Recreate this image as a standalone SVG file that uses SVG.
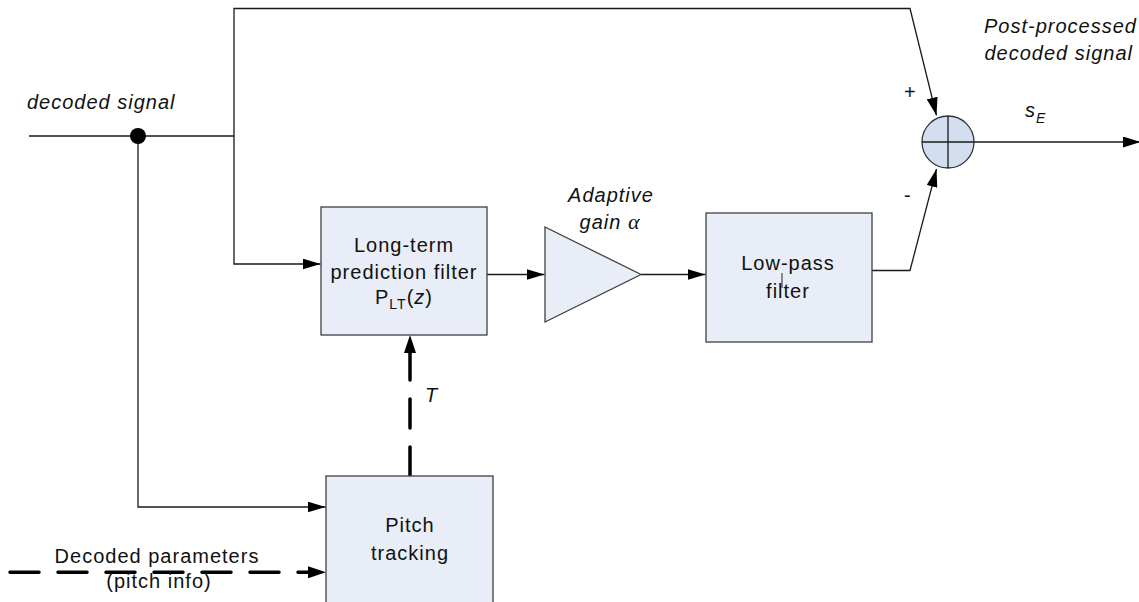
<svg xmlns="http://www.w3.org/2000/svg" width="1139" height="602" viewBox="0 0 1139 602">
<style>
  .ln{fill:none;stroke:#1a1a1a;stroke-width:1.3}
  .dash{fill:none;stroke:#000;stroke-width:3.5;stroke-linecap:round;stroke-dasharray:29 19}
  .box{fill:#e8edf7;stroke:#404040;stroke-width:1.3}
  .t{font-family:"Liberation Sans",Arial,sans-serif;font-size:20px;letter-spacing:1px;fill:#111}
  .i{font-style:italic}
  .m{text-anchor:middle}
  .e{text-anchor:end}
</style>
<defs>
  <marker id="ar" markerUnits="userSpaceOnUse" markerWidth="18" markerHeight="11" refX="18" refY="5.5" orient="auto">
    <path d="M0,0 L18,5.5 L0,11 z" fill="#000"/>
  </marker>
  <marker id="ard" markerUnits="userSpaceOnUse" markerWidth="18" markerHeight="12" refX="0" refY="6" orient="auto">
    <path d="M0,0 L18,6 L0,12 z" fill="#000"/>
  </marker>
</defs>
<rect width="1139" height="602" fill="#fff"/>

<g id="connectors">
  <line class="ln" x1="29" y1="136" x2="234" y2="136"/>
  <polyline class="ln" points="234,136 234,8.5 910,8.5 936.5,115.5" marker-end="url(#ar)"/>
  <polyline class="ln" points="234,136 234,264 320.5,264" marker-end="url(#ar)"/>
  <polyline class="ln" points="138,136 138,507 325.5,507" marker-end="url(#ar)"/>
  <line class="ln" x1="487" y1="274.5" x2="544.5" y2="274.5" marker-end="url(#ar)"/>
  <line class="ln" x1="641" y1="274.5" x2="705.5" y2="274.5" marker-end="url(#ar)"/>
  <polyline class="ln" points="872,270.5 910,270.5 936.5,169" marker-end="url(#ar)"/>
  <line class="ln" x1="974" y1="142" x2="1141" y2="142" marker-end="url(#ar)"/>
  <line class="dash" x1="410" y1="476" x2="410" y2="353" marker-end="url(#ard)"/>
  <line class="dash" x1="10" y1="572.3" x2="308" y2="572.3" marker-end="url(#ard)"/>
  <circle cx="138" cy="136" r="8" fill="#000"/>
</g>

<g id="ltp">
  <rect class="box" x="321" y="207" width="166" height="128"/>
  <text class="t m" x="404" y="251.5">Long-term</text>
  <text class="t m" x="404" y="279">prediction filter</text>
  <text class="t m" x="404" y="304">P<tspan font-size="14" dy="5">LT</tspan><tspan dy="-5">(</tspan><tspan class="i">z</tspan>)</text>
</g>

<g id="gain">
  <polygon points="545,227 545,322 641,274.5" fill="#e8edf7" stroke="#404040" stroke-width="1.3"/>
  <text class="t i m" x="611" y="201.5">Adaptive</text>
  <text class="t i m" x="610" y="229">gain <tspan font-family="'Liberation Serif',serif" font-size="22">α</tspan></text>
</g>

<g id="lowpass">
  <rect class="box" x="706" y="213" width="166" height="129"/>
  <text class="t m" x="788" y="270">Low-pass</text>
  <text class="t m" x="788" y="297.5">filter</text>
  <line x1="782" y1="273" x2="782" y2="288" stroke="#222" stroke-width="1"/>
</g>

<g id="pitch">
  <rect class="box" x="326" y="476" width="167" height="140"/>
  <text class="t m" x="410" y="532">Pitch</text>
  <text class="t m" x="410" y="560">tracking</text>
</g>

<g id="sum">
  <circle cx="948" cy="142" r="26" fill="#d3def0" stroke="#333" stroke-width="1.3"/>
  <line class="ln" x1="922" y1="142" x2="974" y2="142"/>
  <line class="ln" x1="948" y1="116" x2="948" y2="168"/>
</g>

<g id="labels">
  <text class="t i" x="27" y="109">decoded signal</text>
  <text class="t i e" x="1137" y="33">Post-processed</text>
  <text class="t i e" x="1133" y="60">decoded signal</text>
  <text class="t" x="904" y="99">+</text>
  <text class="t" x="904" y="202">-</text>
  <text class="t i" x="1025" y="117">s<tspan font-size="14" dy="6">E</tspan></text>
  <text class="t i" x="425" y="401.5">T</text>
  <text class="t m" x="157" y="562.5">Decoded parameters</text>
  <text class="t m" x="159" y="588">(pitch info)</text>
</g>
</svg>
